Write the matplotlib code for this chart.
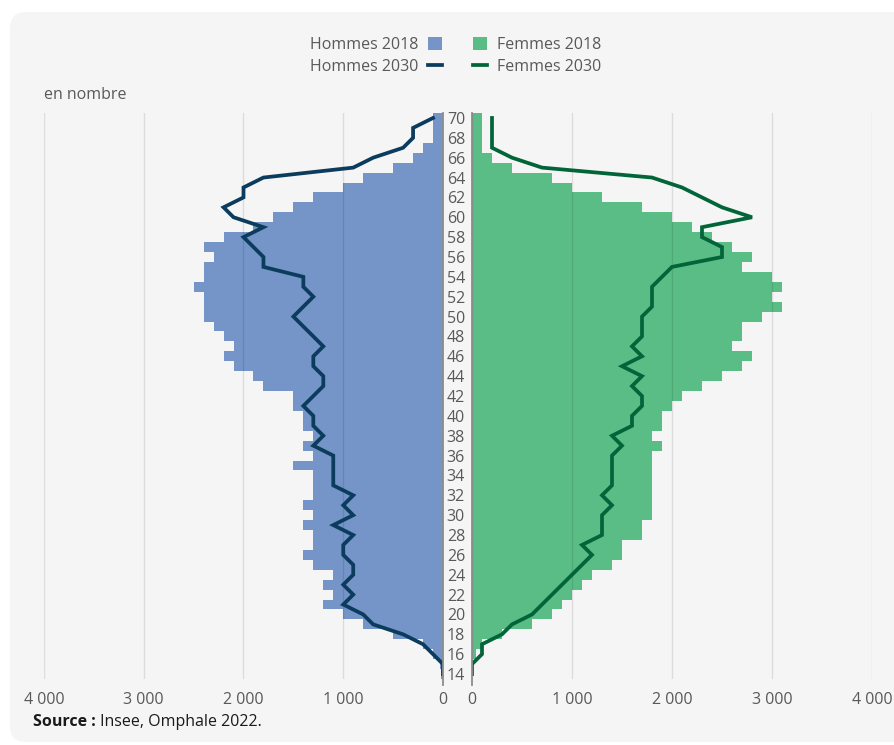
import matplotlib
matplotlib.use("Agg")
import matplotlib.pyplot as plt
from matplotlib.patches import FancyBboxPatch
from matplotlib.ticker import FuncFormatter

plt.rcParams['font.family'] = ['Open Sans', 'DejaVu Sans']

# ages 14 .. 70
ages = list(range(14, 71))

hommes_2018 = [20, 30, 100, 200, 500, 800, 1000, 1200, 1100, 1200,
               1100, 1300, 1400, 1300, 1300, 1400, 1300, 1400, 1300, 1300,
               1300, 1500, 1300, 1400, 1300, 1400, 1400, 1500, 1500, 1800,
               1900, 2100, 2200, 2100, 2200, 2300, 2400, 2400, 2400, 2500,
               2400, 2400, 2300, 2400, 2200, 1900, 1700, 1500, 1300, 1000,
               800, 500, 300, 200, 100, 100, 100]

hommes_2030 = [0, 0, 100, 200, 400, 700, 800, 1000, 900, 1000,
               900, 900, 1000, 1000, 900, 1100, 900, 1000, 900, 1100,
               1100, 1100, 1100, 1300, 1200, 1300, 1300, 1400, 1300, 1200,
               1200, 1300, 1300, 1200, 1300, 1400, 1500, 1400, 1300, 1400,
               1400, 1800, 1800, 1900, 2000, 1800, 2100, 2200, 2000, 2000,
               1800, 900, 700, 400, 300, 300, 100]

femmes_2018 = [0, 10, 40, 100, 300, 600, 800, 900, 1000, 1100,
               1200, 1400, 1500, 1500, 1700, 1700, 1800, 1800, 1800, 1800,
               1800, 1800, 1800, 1900, 1800, 1900, 1900, 2000, 2100, 2300,
               2500, 2700, 2800, 2600, 2700, 2700, 2900, 3100, 3000, 3100,
               3000, 2700, 2800, 2600, 2400, 2200, 2000, 1700, 1300, 1000,
               800, 400, 200, 100, 100, 100, 100]

femmes_2030 = [0, 0, 100, 100, 300, 400, 600, 700, 800, 900,
               1000, 1100, 1200, 1100, 1300, 1300, 1300, 1400, 1300, 1400,
               1400, 1400, 1400, 1500, 1400, 1600, 1600, 1700, 1700, 1600,
               1700, 1500, 1700, 1600, 1700, 1700, 1700, 1800, 1800, 1800,
               1900, 2000, 2500, 2500, 2300, 2300, 2800, 2500, 2300, 2100,
               1800, 700, 400, 200, 200, 200, 200]

xticks = [0, 1000, 2000, 3000, 4000]

C_H18 = '#7594C8'
C_F18 = '#5BBD86'
C_H30 = '#0B3C5D'
C_F30 = '#02653A'
TXT = '#595959'
BG = '#F5F5F5'

W, H = 895, 745
fig = plt.figure(figsize=(W / 100, H / 100), dpi=100)
fig.patch.set_facecolor('white')
fig.patches.append(FancyBboxPatch((10 / W, 3 / H), 1.2, 1 - 15 / H,
                                  boxstyle='round,pad=0,rounding_size=0.018',
                                  mutation_aspect=W / H,
                                  transform=fig.transFigure, facecolor=BG,
                                  edgecolor='none', zorder=-10))

bottom = 1 - 679 / H
height = (679 - 113) / H
ax_l = fig.add_axes([44 / W, bottom, (443 - 44) / W, height])
ax_r = fig.add_axes([472 / W, bottom, (872 - 472) / W, height])

fmt = FuncFormatter(lambda v, p: f"{int(v):,}".replace(',', ' '))

for ax in (ax_l, ax_r):
    ax.set_facecolor('none')
    ax.set_ylim(13.5, 70.5)
    ax.set_xlim(0, 4000)
    ax.set_xticks(xticks)
    ax.xaxis.set_major_formatter(fmt)
    ax.grid(axis='x', color='black', alpha=0.1, lw=1)
    ax.set_axisbelow(False)
    ax.tick_params(axis='x', length=0, pad=9, labelsize=11.5, labelcolor=TXT)
    for s in ax.spines.values():
        s.set_visible(False)

ax_l.invert_xaxis()

hb = ax_l.barh(ages, hommes_2018, height=1.0, color=C_H18, linewidth=0, zorder=1)
hl, = ax_l.plot(hommes_2030, ages, color=C_H30, lw=2.7, zorder=3,
                solid_joinstyle='miter')
fb = ax_r.barh(ages, femmes_2018, height=1.0, color=C_F18, linewidth=0, zorder=1)
fl, = ax_r.plot(femmes_2030, ages, color=C_F30, lw=2.7, zorder=3,
                solid_joinstyle='miter')

ax_l.set_yticks([])
ax_r.set_yticks(ages[::2])
ax_r.tick_params(axis='y', length=0, pad=5, labelsize=11.5, labelcolor=TXT)

# centre axis lines
ax_l.plot([1, 1], [-0.011, 1], transform=ax_l.transAxes, color='#8c8c8c',
          lw=1.3, clip_on=False, zorder=4)
ax_r.plot([0, 0], [-0.011, 1], transform=ax_r.transAxes, color='#8c8c8c',
          lw=1.3, clip_on=False, zorder=4)

leg_y = 1 - 56 / H
leg_kw = dict(frameon=False, fontsize=11.5, handlelength=0.9, handleheight=0.9,
              handletextpad=0.6, labelspacing=0.35, borderpad=0,
              borderaxespad=0, bbox_transform=fig.transFigure, labelcolor=TXT)
ax_l.legend([hb, hl], ['Hommes 2018', 'Hommes 2030'], loc='center right',
            bbox_to_anchor=(442 / W, leg_y), markerfirst=False, **leg_kw)
ax_r.legend([fb, fl], ['Femmes 2018', 'Femmes 2030'], loc='center left',
            bbox_to_anchor=(473 / W, leg_y), **leg_kw)

fig.text(44 / W, 1 - 95 / H, 'en nombre', fontsize=11.5, color=TXT,
         ha='left', va='center')
src = fig.text(33 / W, 1 - 722 / H, 'Source :', fontsize=11.5, color='#1a1a1a',
               fontweight='bold', ha='left', va='center')
ax_l.annotate(' Insee, Omphale 2022.', xy=(1, 0.5), xycoords=src,
              fontsize=11.5, color='#1a1a1a', ha='left', va='center',
              annotation_clip=False)

fig.savefig('out.png', dpi=100, facecolor=fig.get_facecolor())
